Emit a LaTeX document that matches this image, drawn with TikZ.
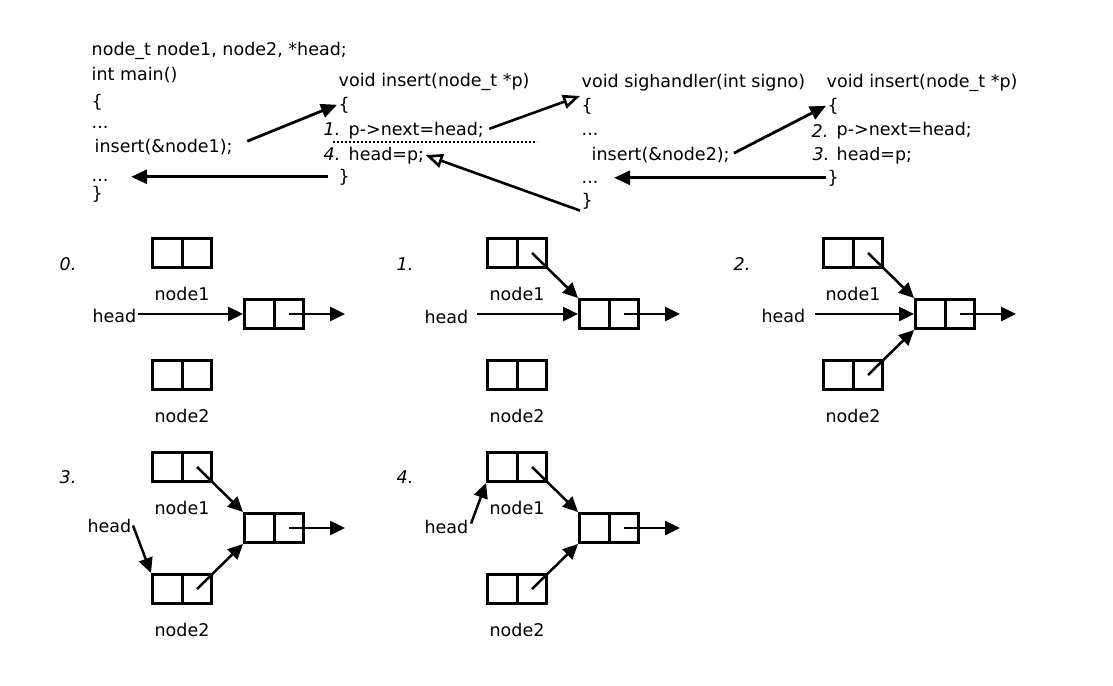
\documentclass[tikz,border=0pt]{standalone}
\usepackage{fontspec}
\setmainfont{DejaVu Sans}
\usepackage{tikz}
\usetikzlibrary{arrows.meta, positioning, calc}

\begin{document}
\begin{tikzpicture}[
    x=1pt, y=-1pt,
    code/.style={anchor=base west, inner sep=1.5pt, font=\fontsize{17.5}{20}\selectfont},
    stepnum/.style={code, font=\fontsize{17.5}{20}\selectfont\itshape},
    lbl/.style={anchor=base, inner sep=1.5pt, font=\fontsize{17.5}{20}\selectfont},
    headlbl/.style={anchor=base east, inner sep=1.5pt, font=\fontsize{17.5}{20}\selectfont},
    cellbox/.style={rectangle, draw, line width=3pt, minimum width=59pt,
                    minimum height=29pt, inner sep=0pt,
                    path picture={\draw[line width=3pt]
                      (path picture bounding box.north) -- (path picture bounding box.south);}},
    arr/.style={-{Triangle[length=16pt, width=14pt]}, line width=2.8pt},
    oarr/.style={-{Triangle[open, length=17pt, width=14pt]}, line width=2.6pt},
    sarr/.style={-{Triangle[length=15pt, width=14pt]}, line width=2.5pt},
]
\useasboundingbox (0,0) rectangle (1113,685);

% main program
\node[code] (decl)   at (90,56)  {node\_t node1, node2, *head;};
\node[code] (mainfn) at (90,80)  {int main()};
\node[code] (open1)  at (90,107) {\{};
\node[code] (dots1a) at (90,128) {...};
\node[code] (call1)  at (93,152) {insert(\&node1);};
\node[code] (dots1b) at (90,181) {...};
\node[code] (close1) at (90,199) {\}};

% first insert
\node[code] (title2) at (337,86)  {void insert(node\_t *p)};
\node[code] (open2)  at (337,110) {\{};
\node[stepnum] (num1) at (322,135) {1.};
\node[code] (stmt1)  at (347,135) {p->next=head;};
\node[stepnum] (num4) at (322,160) {4.};
\node[code] (stmt4)  at (347,160) {head=p;};
\node[code] (close2) at (337,182) {\}};
\draw[dotted, line width=2pt] (333,142) -- (537,142);

% signal handler
\node[code] (title3) at (580,87)  {void sighandler(int signo)};
\node[code] (open3)  at (580,111) {\{};
\node[code] (dots3a) at (580,135) {...};
\node[code] (call2)  at (590,160) {insert(\&node2);};
\node[code] (dots3b) at (580,183) {...};
\node[code] (close3) at (580,206) {\}};

% second insert
\node[code] (title4) at (825,87)  {void insert(node\_t *p)};
\node[code] (open4)  at (826,111) {\{};
\node[stepnum] (num2) at (810,137) {2.};
\node[code] (stmt2)  at (835,135) {p->next=head;};
\node[stepnum] (num3) at (811,160) {3.};
\node[code] (stmt3)  at (835,160) {head=p;};
\node[code] (close4) at (826,183) {\}};

% call / return arrows
\draw[arr, shorten <=14pt] (call1.east) -- (open2.west);
\draw[arr, shorten <=9pt, shorten >=21pt] (close2.west) -- (close2.west -| dots1b.east);
\draw[oarr, shorten <=4pt] (stmt1.east) -- (open3.north west);
\draw[oarr] (close3.south west) -- (stmt4.east);
\draw[arr, shorten <=3pt] (call2.east) -- (open4.west);
\draw[arr, shorten >=14pt] (close4.west) -- (close4.west -| dots3b.east);

% step 0
\node[stepnum] (k0) at (58,270) {0.};
\node[cellbox] (p0n1) at (182,253) {};
\node[cellbox] (p0m)  at (274,314) {};
\node[cellbox] (p0n2) at (182,375) {};
\node[lbl] (p0l1) at ([yshift=-31pt]p0n1.south) {node1};
\node[lbl] (p0l2) at ([yshift=-31pt]p0n2.south) {node2};
\node[headlbl] (p0head) at (138,322) {head};
\draw[sarr] (p0head.east |- p0m.west) -- (p0m.west);
\draw[sarr] ([xshift=15pt]p0m.center) -- ([xshift=71pt]p0m.center);

% step 1
\node[stepnum] (k1) at (395,270) {1.};
\node[cellbox] (p1n1) at (517,253) {};
\node[cellbox] (p1m)  at (609,314) {};
\node[cellbox] (p1n2) at (517,375) {};
\node[lbl] (p1l1) at ([yshift=-31pt]p1n1.south) {node1};
\node[lbl] (p1l2) at ([yshift=-31pt]p1n2.south) {node2};
\node[headlbl] (p1head) at (470,323) {head};
\draw[sarr, shorten <=7pt] (p1head.east |- p1m.west) -- (p1m.west);
\draw[sarr] ([xshift=15pt]p1n1.center) -- (p1m.north west);
\draw[sarr] ([xshift=15pt]p1m.center) -- ([xshift=71pt]p1m.center);

% step 2
\node[stepnum] (k2) at (732,270) {2.};
\node[cellbox] (p2n1) at (853,253) {};
\node[cellbox] (p2m)  at (945,314) {};
\node[cellbox] (p2n2) at (853,375) {};
\node[lbl] (p2l1) at ([yshift=-31pt]p2n1.south) {node1};
\node[lbl] (p2l2) at ([yshift=-31pt]p2n2.south) {node2};
\node[headlbl] (p2head) at (807,322) {head};
\draw[sarr, shorten <=8pt] (p2head.east |- p2m.west) -- (p2m.west);
\draw[sarr] ([xshift=15pt]p2n1.center) -- (p2m.north west);
\draw[sarr] ([xshift=15pt]p2n2.center) -- (p2m.south west);
\draw[sarr] ([xshift=15pt]p2m.center) -- ([xshift=71pt]p2m.center);

% step 3
\node[stepnum] (k3) at (58,483) {3.};
\node[cellbox] (p3n1) at (182,467) {};
\node[cellbox] (p3m)  at (274,528) {};
\node[cellbox] (p3n2) at (182,589) {};
\node[lbl] (p3l1) at ([yshift=-31pt]p3n1.south) {node1};
\node[lbl] (p3l2) at ([yshift=-31pt]p3n2.south) {node2};
\node[headlbl] (p3head) at (133,532) {head};
\draw[sarr] (p3head.east) -- (p3n2.north west);
\draw[sarr] ([xshift=15pt]p3n1.center) -- (p3m.north west);
\draw[sarr] ([xshift=15pt]p3n2.center) -- (p3m.south west);
\draw[sarr] ([xshift=15pt]p3m.center) -- ([xshift=71pt]p3m.center);

% step 4
\node[stepnum] (k4) at (395,483) {4.};
\node[cellbox] (p4n1) at (517,467) {};
\node[cellbox] (p4m)  at (609,528) {};
\node[cellbox] (p4n2) at (517,589) {};
\node[lbl] (p4l1) at ([yshift=-31pt]p4n1.south) {node1};
\node[lbl] (p4l2) at ([yshift=-31pt]p4n2.south) {node2};
\node[headlbl] (p4head) at (470,533) {head};
\draw[sarr, shorten <=3pt] (p4head.east) -- (p4n1.south west);
\draw[sarr] ([xshift=15pt]p4n1.center) -- (p4m.north west);
\draw[sarr] ([xshift=15pt]p4n2.center) -- (p4m.south west);
\draw[sarr] ([xshift=15pt]p4m.center) -- ([xshift=71pt]p4m.center);

\end{tikzpicture}
\end{document}
